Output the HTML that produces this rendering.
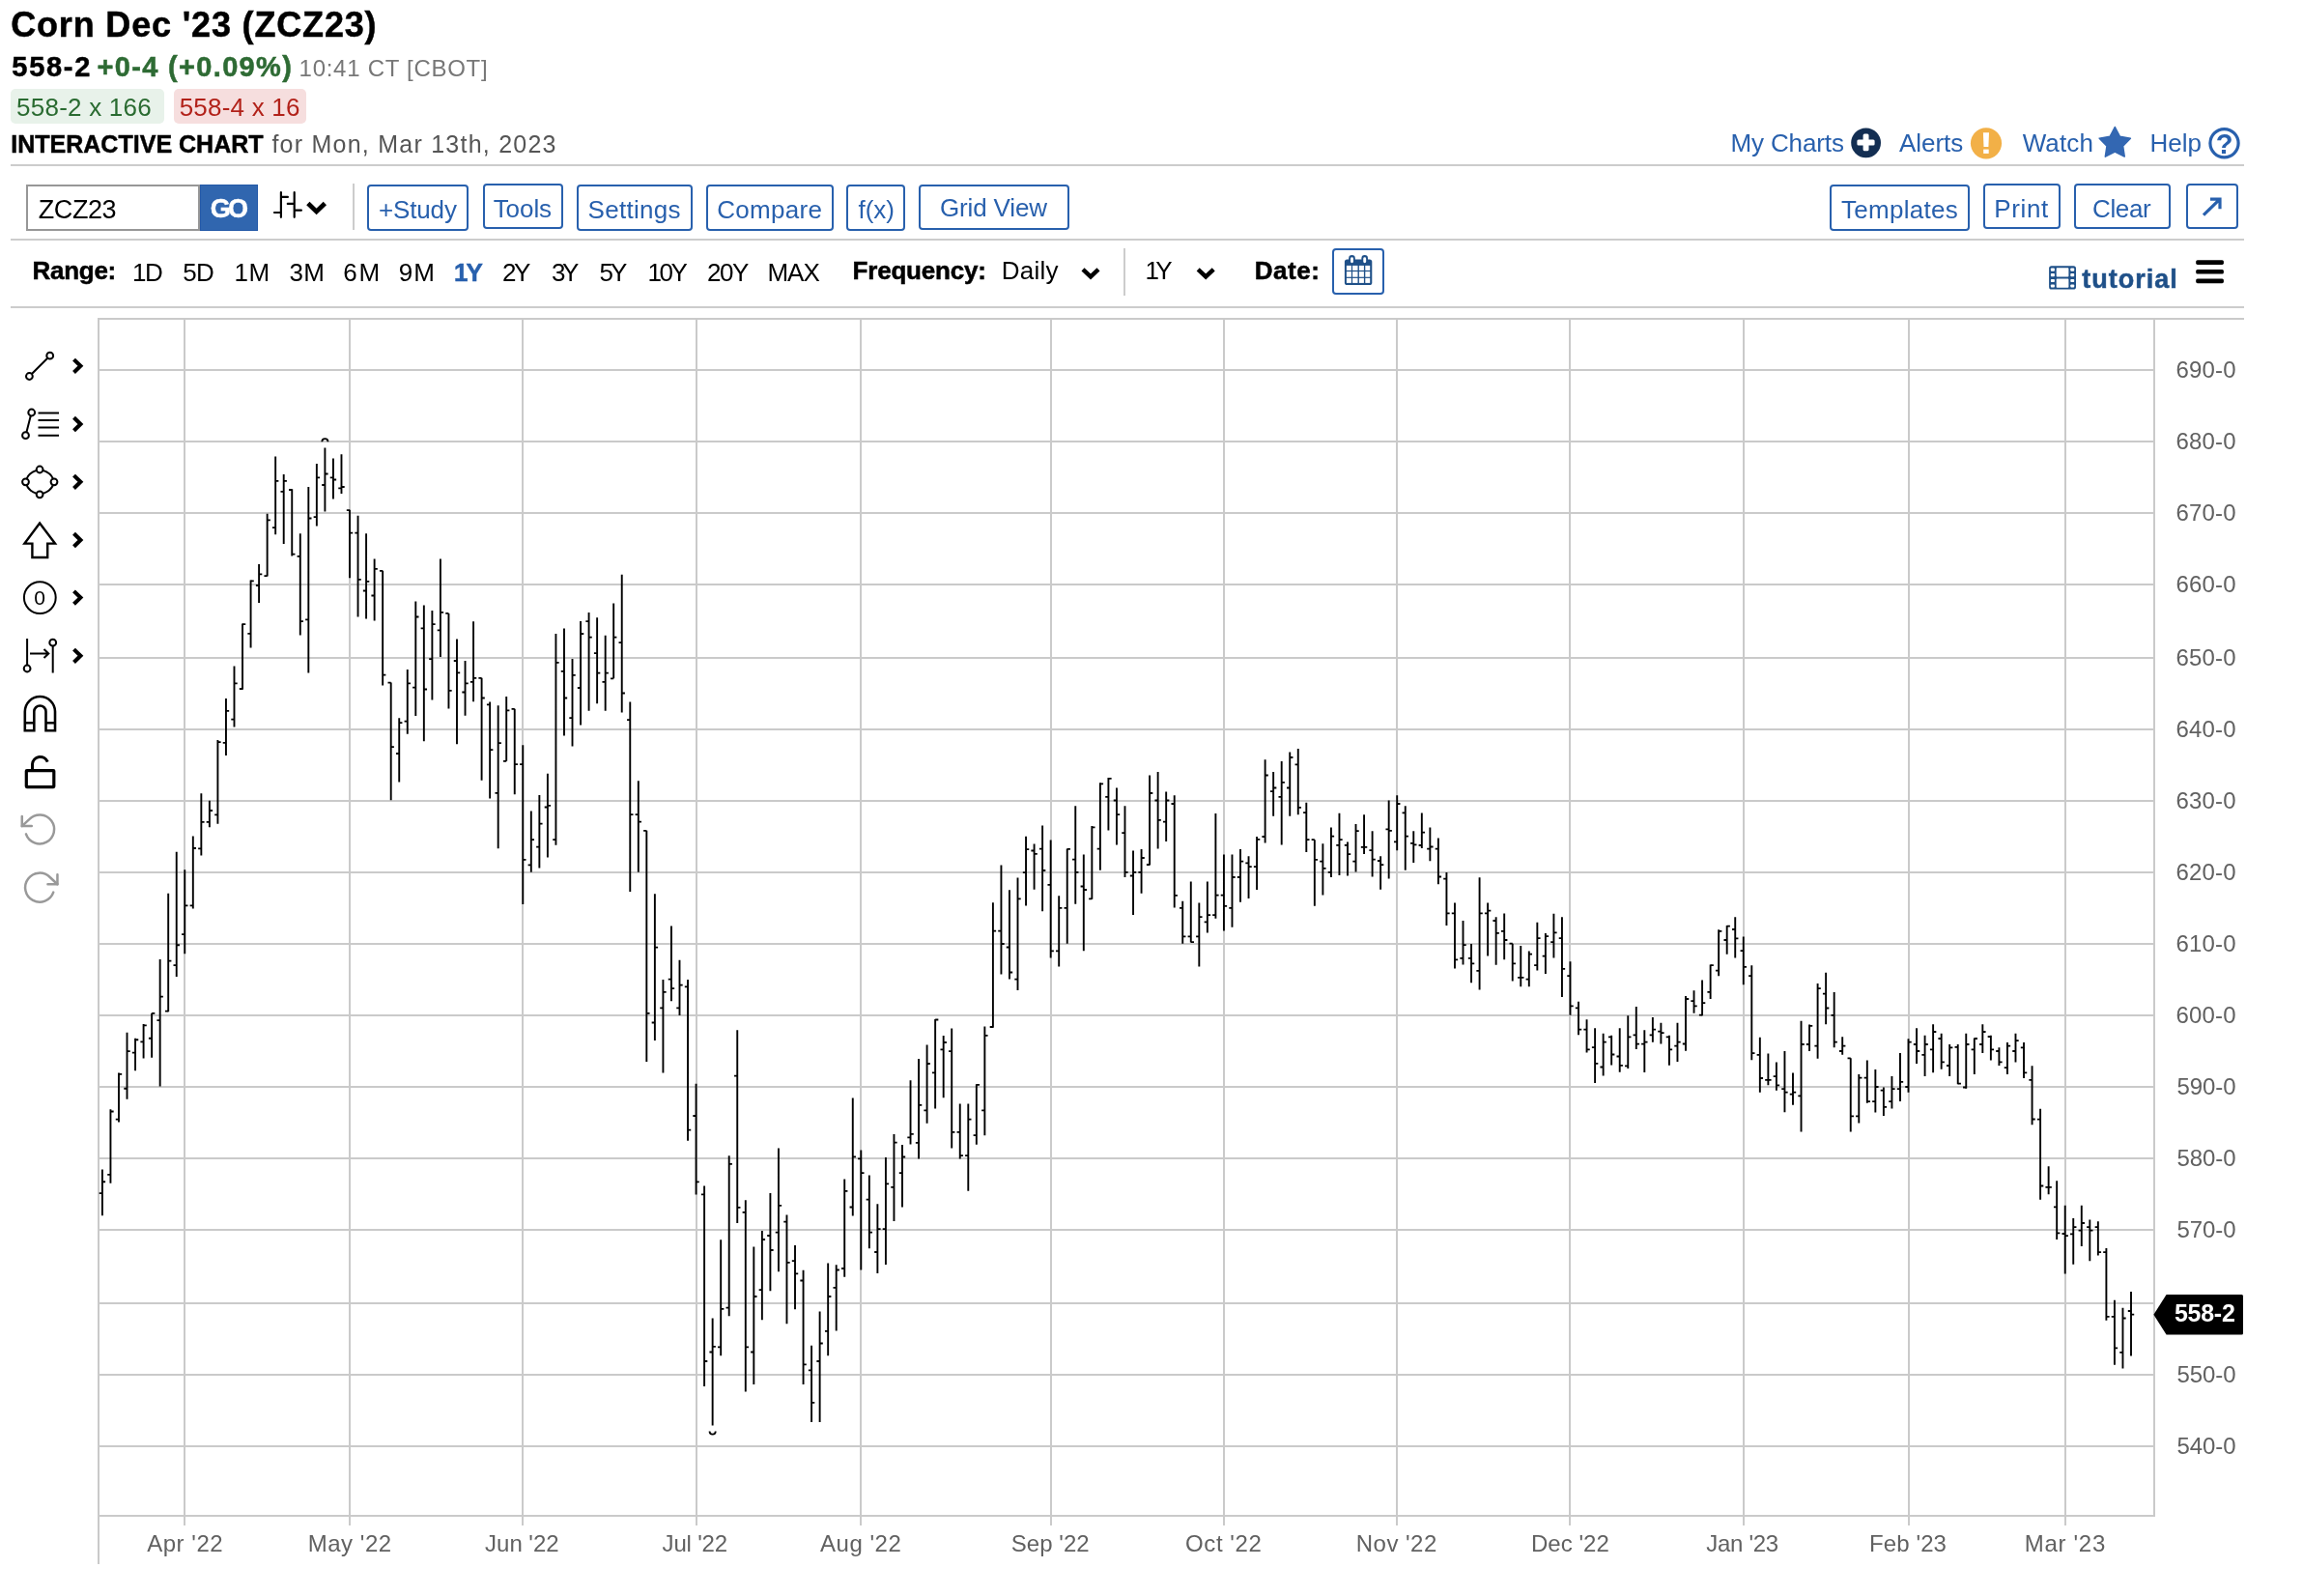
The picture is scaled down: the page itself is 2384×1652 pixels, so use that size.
<!DOCTYPE html>
<html lang="en"><head><meta charset="utf-8"><title>Corn Dec '23 (ZCZ23) Interactive Chart</title>
<style>
html,body{margin:0;padding:0;background:#fff}
body{width:2384px;height:1652px;position:relative;overflow:hidden;font-family:"Liberation Sans",sans-serif;color:#000}
#page{position:absolute;left:0;top:0;width:2384px;height:1652px;will-change:transform}
.t{position:absolute;white-space:nowrap;line-height:1;margin:0;padding:0}
.b{font-weight:700;-webkit-text-stroke:0.5px currentColor}
.hr{position:absolute;left:11px;width:2312px;height:2px;background:#ccc}
.box{position:absolute;box-sizing:border-box}
.btn{border:2px solid #2860ad;border-radius:4px;background:#fff}
.badge{border-radius:5px}
.bid{background:#e8f2ea}
.ask{background:#f6dede}
.sym{border:2px solid #979797;background:#fff}
.go{background:#3066af;border:1px solid #2359a8}
.vdiv{position:absolute;width:2px;background:#ccc}
svg{position:absolute;left:0;top:0;overflow:visible}

</style></head><body><div id="page">
<div id="header">
<div class="box badge bid" style="left:11px;top:92px;width:159px;height:36px"><span class="t" style="left:6.1px;top:6px;font-size:26px;color:#2a6b31;letter-spacing:0.22px">558-2 x 166</span></div>
<div class="box badge ask" style="left:180px;top:92px;width:137px;height:36px"><span class="t" style="left:5.7px;top:6px;font-size:26px;color:#b2221a;letter-spacing:0.21px">558-4 x 16</span></div>
<span class="t b" style="left:11.2px;top:7.5px;font-size:36px;color:#000;letter-spacing:0.83px">Corn Dec '23 (ZCZ23)</span>
<span class="t b" style="left:12.3px;top:54.5px;font-size:29px;color:#000;letter-spacing:1.71px">558-2</span>
<span class="t b" style="left:100.4px;top:54.5px;font-size:29px;color:#2e6b34;letter-spacing:1.34px">+0-4 (+0.09%)</span>
<span class="t" style="left:309.6px;top:58.5px;font-size:24px;color:#777;letter-spacing:0.72px">10:41 CT [CBOT]</span>
<span class="t b" style="left:11.2px;top:136.5px;font-size:25px;color:#000;letter-spacing:0.02px">INTERACTIVE CHART</span>
<span class="t" style="left:281.4px;top:136.5px;font-size:25px;color:#555;letter-spacing:1.24px">for Mon, Mar 13th, 2023</span>
<span class="t" style="left:1791.4px;top:135px;font-size:26px;color:#2860ad;letter-spacing:-0.12px">My Charts</span>
<span class="t" style="left:1966px;top:135px;font-size:26px;color:#2860ad;letter-spacing:-0.05px">Alerts</span>
<span class="t" style="left:2093.7px;top:135px;font-size:26px;color:#2860ad;letter-spacing:0.11px">Watch</span>
<span class="t" style="left:2225.4px;top:135px;font-size:26px;color:#2860ad;letter-spacing:0.03px">Help</span>
</div>
<div class="hr" style="top:170px"></div>
<div id="toolbar">
<div class="box sym" style="left:27px;top:191px;width:180px;height:48px"><span class="t" style="left:10.8px;top:10.5px;font-size:27px;color:#000;letter-spacing:-0.45px">ZCZ23</span></div>
<div class="box go" style="left:206.8px;top:191px;width:60.2px;height:48px"><span class="t b" style="left:9.9px;top:10.5px;font-size:27px;color:#fff;letter-spacing:-2.6px">GO</span></div>
<div class="box btn" style="left:380.4px;top:191.4px;width:105px;height:47.2px"><span class="t" style="left:9.5px;top:10.6px;font-size:26px;color:#2860ad;letter-spacing:-0.13px">+Study</span></div>
<div class="box btn" style="left:499.5px;top:190.4px;width:83.8px;height:47px"><span class="t" style="left:9.2px;top:10.6px;font-size:26px;color:#2860ad;letter-spacing:-0.07px">Tools</span></div>
<div class="box btn" style="left:597px;top:191.4px;width:119.6px;height:47.2px"><span class="t" style="left:9.5px;top:10.6px;font-size:26px;color:#2860ad;letter-spacing:0.29px">Settings</span></div>
<div class="box btn" style="left:731.3px;top:191.4px;width:131.3px;height:47.2px"><span class="t" style="left:8.9px;top:10.6px;font-size:26px;color:#2860ad;letter-spacing:0.3px">Compare</span></div>
<div class="box btn" style="left:876px;top:191.4px;width:60.9px;height:47.2px"><span class="t" style="left:10.5px;top:10.6px;font-size:26px;color:#2860ad;letter-spacing:-0.03px">f(x)</span></div>
<div class="box btn" style="left:951.2px;top:191px;width:155.6px;height:47px"><span class="t" style="left:19.7px;top:9px;font-size:26px;color:#2860ad;letter-spacing:-0.13px">Grid View</span></div>
<div class="box btn" style="left:1894px;top:191.4px;width:144.8px;height:47.2px"><span class="t" style="left:10px;top:10.6px;font-size:26px;color:#2860ad;letter-spacing:0.29px">Templates</span></div>
<div class="box btn" style="left:2053.2px;top:190.4px;width:79.5px;height:47px"><span class="t" style="left:9px;top:10.6px;font-size:26px;color:#2860ad;letter-spacing:0.67px">Print</span></div>
<div class="box btn" style="left:2147.3px;top:190.4px;width:99.3px;height:47px"><span class="t" style="left:16.7px;top:10.6px;font-size:26px;color:#2860ad;letter-spacing:-0.37px">Clear</span></div>
<div class="box btn" style="left:2263.1px;top:190.4px;width:53.7px;height:47px"></div>
<div class="vdiv" style="left:365px;top:190px;height:48px"></div>
</div>
<div class="hr" style="top:247px"></div>
<div id="rangebar">
<div class="box btn" style="left:1379px;top:257px;width:54px;height:48px"></div>
<div class="vdiv" style="left:1163px;top:257px;height:49px"></div>
<span class="t b" style="left:33.4px;top:267px;font-size:26px;color:#000;letter-spacing:-0.25px">Range:</span>
<span class="t" style="left:137.1px;top:269px;font-size:26px;color:#000;letter-spacing:-1.46px">1D</span>
<span class="t" style="left:189.2px;top:269px;font-size:26px;color:#000;letter-spacing:-0.66px">5D</span>
<span class="t" style="left:242.6px;top:269px;font-size:26px;color:#000;letter-spacing:0.44px">1M</span>
<span class="t" style="left:299.6px;top:269px;font-size:26px;color:#000;letter-spacing:0.24px">3M</span>
<span class="t" style="left:355.2px;top:269px;font-size:26px;color:#000;letter-spacing:1.74px">6M</span>
<span class="t" style="left:412.8px;top:269px;font-size:26px;color:#000;letter-spacing:0.94px">9M</span>
<span class="t b" style="left:470.1px;top:269px;font-size:26px;color:#2860ad;letter-spacing:-2.06px">1Y</span>
<span class="t" style="left:520.1px;top:269px;font-size:26px;color:#000;letter-spacing:-2.56px">2Y</span>
<span class="t" style="left:570.9px;top:269px;font-size:26px;color:#000;letter-spacing:-3.26px">3Y</span>
<span class="t" style="left:620.4px;top:269px;font-size:26px;color:#000;letter-spacing:-2.76px">5Y</span>
<span class="t" style="left:670.4px;top:269px;font-size:26px;color:#000;letter-spacing:-2.36px">10Y</span>
<span class="t" style="left:732.1px;top:269px;font-size:26px;color:#000;letter-spacing:-1.56px">20Y</span>
<span class="t" style="left:794.4px;top:269px;font-size:26px;color:#000;letter-spacing:-1px">MAX</span>
<span class="t b" style="left:882.6px;top:267px;font-size:26px;color:#000;letter-spacing:-0.21px">Frequency:</span>
<span class="t" style="left:1036.7px;top:267px;font-size:26px;color:#000;letter-spacing:0.23px">Daily</span>
<span class="t" style="left:1185.6px;top:267px;font-size:26px;color:#000;letter-spacing:-3.86px">1Y</span>
<span class="t b" style="left:1298.7px;top:267px;font-size:26px;color:#000;letter-spacing:0.54px">Date:</span>
<span class="t b" style="left:2155.3px;top:275.5px;font-size:27px;color:#1f5088;letter-spacing:0.99px">tutorial</span>
</div>
<div class="hr" style="top:317px"></div>
<svg width="2384" height="1652" viewBox="0 0 2384 1652">
<circle cx="1931.6" cy="147.8" r="15.4" fill="#132e52"/>
<rect x="1922.4" y="144.4" width="18.2" height="6.2" rx="1.5" fill="#fff"/><rect x="1928.6" y="138.5" width="5.9" height="17.8" rx="1.5" fill="#fff"/>
<circle cx="2056" cy="148.3" r="16.1" fill="#f2b047"/>
<path d="M2052.9 137.3H2059L2058.4 152.1H2053.5Z" fill="#fff"/><rect x="2053.2" y="154.6" width="5.5" height="4.3" fill="#fff"/>
<polygon points="2189.3,131.5 2194.41,141.36 2205.37,143.18 2197.57,151.09 2199.23,162.07 2189.3,157.1 2179.37,162.07 2181.03,151.09 2173.23,143.18 2184.19,141.36" fill="#3367b2" stroke="#3367b2" stroke-width="1.6" stroke-linejoin="round"/>
<circle cx="2302.5" cy="148.3" r="14.6" fill="none" stroke="#2860ad" stroke-width="3.2"/>
<text x="2302.5" y="158.9" text-anchor="middle" font-family="Liberation Sans, sans-serif" font-size="29" font-weight="700" fill="#2860ad">?</text>
<path d="M290.9 199.2V224.8M284 220H290.9M290.9 203.9H297.9M304.7 199.2V224.8M297.8 210.9H304.7M304.7 217.7H311.9" fill="none" stroke="#000" stroke-width="2.2" stroke-linecap="round"/>
<path d="M318.85 210.6 L327.6 218.9 L336.35 210.6" fill="none" stroke="#000" stroke-width="4.8" stroke-linejoin="miter"/>
<path d="M1121 278.8 L1129 286.4 L1137 278.8" fill="none" stroke="#000" stroke-width="4.4" stroke-linejoin="miter"/>
<path d="M1240.2 278.8 L1248.2 286.4 L1256.2 278.8" fill="none" stroke="#000" stroke-width="4.4" stroke-linejoin="miter"/>
<path d="M2281 222.6L2297.4 206.6M2288 206.2H2298V216.2" fill="none" stroke="#2860ad" stroke-width="3.2"/>
<g fill="#1f5088"><rect x="1391.9" y="268.4" width="28.4" height="26.6" rx="2.6"/><rect x="1396.2" y="264" width="6.6" height="9.2" rx="3.3"/><rect x="1409.4" y="264" width="6.6" height="9.2" rx="3.3"/></g>
<g fill="#fff"><rect x="1398.05" y="266.3" width="2.9" height="6" rx="1.45"/><rect x="1411.25" y="266.3" width="2.9" height="6" rx="1.45"/>
<rect x="1393.9" y="274.9" width="5" height="5"/>
<rect x="1400.1" y="274.9" width="5.4" height="5"/>
<rect x="1406.9" y="274.9" width="5" height="5"/>
<rect x="1413.3" y="274.9" width="4.9" height="5"/>
<rect x="1393.9" y="281.1" width="5" height="5.6"/>
<rect x="1400.1" y="281.1" width="5.4" height="5.6"/>
<rect x="1406.9" y="281.1" width="5" height="5.6"/>
<rect x="1413.3" y="281.1" width="4.9" height="5.6"/>
<rect x="1393.9" y="287.9" width="5" height="5"/>
<rect x="1400.1" y="287.9" width="5.4" height="5"/>
<rect x="1406.9" y="287.9" width="5" height="5"/>
<rect x="1413.3" y="287.9" width="4.9" height="5"/>
</g>
<rect x="2121.1" y="275.2" width="27.9" height="24.4" rx="2.6" fill="#1f5088"/>
<g fill="#fff">
<rect x="2122.9" y="277.5" width="4" height="3.2" rx="0.8"/><rect x="2143.3" y="277.5" width="3.9" height="3.2" rx="0.8"/>
<rect x="2122.9" y="283" width="4" height="3.2" rx="0.8"/><rect x="2143.3" y="283" width="3.9" height="3.2" rx="0.8"/>
<rect x="2122.9" y="288.9" width="4" height="3.2" rx="0.8"/><rect x="2143.3" y="288.9" width="3.9" height="3.2" rx="0.8"/>
<rect x="2122.9" y="294.4" width="4" height="3.2" rx="0.8"/><rect x="2143.3" y="294.4" width="3.9" height="3.2" rx="0.8"/>
<rect x="2128.7" y="277.3" width="12.7" height="9.3" rx="0.8"/><rect x="2128.7" y="288.6" width="12.7" height="9.1" rx="0.8"/>
</g>
<rect x="2273.2" y="269.25" width="28.7" height="4.7" rx="1.6" fill="#000"/>
<rect x="2273.2" y="278.9" width="28.7" height="4.7" rx="1.6" fill="#000"/>
<rect x="2273.2" y="288.45" width="28.7" height="4.7" rx="1.6" fill="#000"/>
<g fill="none" stroke="#000" stroke-width="2"><circle cx="51.7" cy="368.2" r="3.4"/><circle cx="30.4" cy="389.5" r="3.4"/><path d="M32.9 387L49.2 370.7"/></g>
<g fill="none" stroke="#000" stroke-width="2"><circle cx="32.7" cy="427" r="3.4"/><circle cx="26.5" cy="450.7" r="3.4"/><path d="M31.8 430.3L27.4 447.4M39.5 427.4H61M39.5 435.1H61M39.5 442.6H61M39.5 450.7H61"/></g>
<g fill="none" stroke="#000" stroke-width="2"><circle cx="41.1" cy="486" r="3.4"/><circle cx="41.1" cy="511.8" r="3.4"/><circle cx="26.5" cy="498.8" r="3.4"/><circle cx="56" cy="498.8" r="3.4"/><path d="M37.8 486.9Q30 489.5 27.6 495.5M44.4 486.9Q52.5 489.5 54.9 495.5M27.6 502.1Q30 508 37.8 510.9M54.9 502.1Q52.5 508 44.4 510.9"/></g>
<path d="M41.1 541.5L57 562.6H49.2V577H33.4V562.6H25.4Z" fill="none" stroke="#000" stroke-width="2.4" stroke-linejoin="miter"/>
<circle cx="41.3" cy="618.6" r="16.4" fill="none" stroke="#000" stroke-width="2"/>
<text x="41.1" y="626.2" text-anchor="middle" font-family="Liberation Sans, sans-serif" font-size="21" fill="#000">0</text>
<g fill="none" stroke="#000" stroke-width="2"><path d="M28.1 661V688.6M54.7 668.6V696.4M31 676.5H50M45.5 672L50.3 676.5L45.5 681"/><circle cx="28.1" cy="692" r="3.4"/><circle cx="54.7" cy="665.2" r="3.4"/></g>
<path d="M25.8 756.3V736.6A15.6 15.6 0 0 1 57 736.6V756.3H47.5V736.6A6.1 6.1 0 0 0 35.3 736.6V756.3ZM25.8 748.3H35.3M47.5 748.3H57" fill="none" stroke="#000" stroke-width="2.6"/>
<rect x="27.3" y="797.6" width="28.5" height="17" rx="0.5" fill="none" stroke="#000" stroke-width="3.2"/>
<path d="M33.5 797V791A8.2 8.2 0 0 1 49.3 788.6" fill="none" stroke="#000" stroke-width="3"/>
<g transform="translate(21.1 838.4) scale(1.667)" fill="none" stroke="#999" stroke-width="1.5" stroke-linecap="round" stroke-linejoin="round"><path d="M1 4V10H7"/><path d="M3.51 15a9 9 0 1 0 2.13-9.36L1 10"/></g>
<g transform="translate(21.1 898.6) scale(1.667)" fill="none" stroke="#999" stroke-width="1.5" stroke-linecap="round" stroke-linejoin="round"><path d="M23 4V10H17"/><path d="M20.49 15a9 9 0 1 1-2.12-9.36L23 10"/></g>
<path d="M76.5 372.1 L83.4 378.8 L76.5 385.5" fill="none" stroke="#000" stroke-width="4.1" stroke-linejoin="miter"/>
<path d="M76.5 432.3 L83.4 439 L76.5 445.7" fill="none" stroke="#000" stroke-width="4.1" stroke-linejoin="miter"/>
<path d="M76.5 492.1 L83.4 498.8 L76.5 505.5" fill="none" stroke="#000" stroke-width="4.1" stroke-linejoin="miter"/>
<path d="M76.5 552.3 L83.4 559 L76.5 565.7" fill="none" stroke="#000" stroke-width="4.1" stroke-linejoin="miter"/>
<path d="M76.5 611.9 L83.4 618.6 L76.5 625.3" fill="none" stroke="#000" stroke-width="4.1" stroke-linejoin="miter"/>
<path d="M76.5 672.1 L83.4 678.8 L76.5 685.5" fill="none" stroke="#000" stroke-width="4.1" stroke-linejoin="miter"/>
</svg>
<svg width="2384" height="1652" viewBox="0 0 2384 1652" font-family="Liberation Sans, sans-serif">
<g fill="#cacaca" shape-rendering="crispEdges">
<rect x="101" y="329" width="2222" height="2"/>
<rect x="101" y="1568" width="2130" height="2"/>
<rect x="101" y="329" width="2" height="1290"/>
<rect x="2229" y="329" width="2" height="1241"/>
<rect x="103" y="382" width="2126" height="2"/>
<rect x="103" y="456" width="2126" height="2"/>
<rect x="103" y="530" width="2126" height="2"/>
<rect x="103" y="604" width="2126" height="2"/>
<rect x="103" y="680" width="2126" height="2"/>
<rect x="103" y="754" width="2126" height="2"/>
<rect x="103" y="828" width="2126" height="2"/>
<rect x="103" y="902" width="2126" height="2"/>
<rect x="103" y="976" width="2126" height="2"/>
<rect x="103" y="1050" width="2126" height="2"/>
<rect x="103" y="1124" width="2126" height="2"/>
<rect x="103" y="1198" width="2126" height="2"/>
<rect x="103" y="1272" width="2126" height="2"/>
<rect x="103" y="1348" width="2126" height="2"/>
<rect x="103" y="1422" width="2126" height="2"/>
<rect x="103" y="1496" width="2126" height="2"/>
<rect x="190" y="331" width="2" height="1248"/>
<rect x="361" y="331" width="2" height="1248"/>
<rect x="540" y="331" width="2" height="1248"/>
<rect x="720" y="331" width="2" height="1248"/>
<rect x="890" y="331" width="2" height="1248"/>
<rect x="1087" y="331" width="2" height="1248"/>
<rect x="1266" y="331" width="2" height="1248"/>
<rect x="1445" y="331" width="2" height="1248"/>
<rect x="1624" y="331" width="2" height="1248"/>
<rect x="1804" y="331" width="2" height="1248"/>
<rect x="1975" y="331" width="2" height="1248"/>
<rect x="2137" y="331" width="2" height="1248"/>
</g>
<g font-size="24" fill="#616161">
<text x="2252.5" y="391.4" letter-spacing="0.19">690-0</text>
<text x="2252.5" y="465.4" letter-spacing="0.19">680-0</text>
<text x="2252.5" y="539.4" letter-spacing="0.19">670-0</text>
<text x="2252.5" y="613.4" letter-spacing="0.19">660-0</text>
<text x="2252.5" y="689.4" letter-spacing="0.19">650-0</text>
<text x="2252.5" y="763.4" letter-spacing="0.19">640-0</text>
<text x="2252.5" y="837.4" letter-spacing="0.19">630-0</text>
<text x="2252.5" y="911.4" letter-spacing="0.19">620-0</text>
<text x="2252.5" y="985.4" letter-spacing="0.19">610-0</text>
<text x="2252.5" y="1059.4" letter-spacing="0.19">600-0</text>
<text x="2253.5" y="1133.4" letter-spacing="-0.06">590-0</text>
<text x="2253.5" y="1207.4" letter-spacing="-0.06">580-0</text>
<text x="2253.5" y="1281.4" letter-spacing="-0.06">570-0</text>
<text x="2253.5" y="1357.4" letter-spacing="-0.06">560-0</text>
<text x="2253.5" y="1431.4" letter-spacing="-0.06">550-0</text>
<text x="2253.5" y="1505.4" letter-spacing="-0.06">540-0</text>
<text x="152.2" y="1605.9" letter-spacing="0.53">Apr '22</text>
<text x="318.7" y="1605.9" letter-spacing="0.54">May '22</text>
<text x="502.1" y="1605.9" letter-spacing="-0.03">Jun '22</text>
<text x="685.6" y="1605.9" letter-spacing="-0.18">Jul '22</text>
<text x="849.1" y="1605.9" letter-spacing="0.5">Aug '22</text>
<text x="1046.8" y="1605.9" letter-spacing="0.03">Sep '22</text>
<text x="1227.1" y="1605.9" letter-spacing="0.56">Oct '22</text>
<text x="1403.8" y="1605.9" letter-spacing="0.47">Nov '22</text>
<text x="1584.9" y="1605.9" letter-spacing="0.04">Dec '22</text>
<text x="1766.2" y="1605.9" letter-spacing="-0.27">Jan '23</text>
<text x="1935.1" y="1605.9" letter-spacing="0.09">Feb '23</text>
<text x="2095.7" y="1605.9" letter-spacing="0.71">Mar '23</text>
</g>
<path d="M105.9 1210.62V1258.13M114.44 1148.26V1224.72M122.97 1110.39V1161.62M131.51 1068.82V1137.86M140.05 1074.76V1108.17M148.59 1059.91V1095.55M157.12 1048.78V1094.8M165.66 993.1V1124.5M174.2 924.79V1047.29M182.73 881.74V1010.91M191.27 900.3V987.16M199.81 865.4V940.38M208.34 821.3V885.6M216.88 828.8V856.3M225.42 765.9V852.7M233.96 722.9V781.9M242.49 689.5V752.4M251.03 645.4V713.8M259.57 600.5V670.5M268.1 583.9V623.9M276.64 531.8V596.6M285.18 472.5V553.3M293.71 491V563M302.25 506.2V575.6M310.79 552.2V657.5M319.33 504V696.4M327.86 480V544.5M336.4 463.4V529.6M344.94 474.5V516.4M353.47 470.3V510.9M362.01 527.7V598.3M370.55 533.7V638.5M379.08 552.2V640.4M387.62 578.4V642.6M396.16 590.8V709.4M404.7 706.6V828.2M413.23 743.3V809.5M421.77 693.1V759.8M430.31 622.5V741.1M438.84 626.4V767.3M447.38 631.9V724.5M455.92 578.4V679.9M464.45 634.9V733.6M472.99 661.6V770.3M481.53 684V740.7M490.07 643.3V726.3M498.6 701.8V807.7M507.14 726.6V826.4M515.68 730.2V878.2M524.21 721.1V787.8M532.75 733.8V822.3M541.29 771.3V935.9M549.82 839.6V902.8M558.36 823.1V898.6M566.9 800.8V887.6M575.44 656V874.7M583.97 650.5V761.6M592.51 681.9V772.6M601.05 643.1V750.6M609.58 634V735.7M618.12 639.2V728.3M626.66 657.7V735.7M635.19 624.6V702.3M643.73 594.8V737.4M652.27 726.6V922.9M660.81 808.2V902.8M669.34 859.8V1099.1M677.88 925.2V1077M686.42 1014.1V1110.4M694.95 958.6V1036.2M703.49 993.7V1051.1M712.03 1014.1V1180.7M720.56 1121.7V1236.4M729.1 1227.4V1434.9M737.64 1364.5V1475.5M746.18 1283.3V1403.3M754.71 1196.3V1362.3M763.25 1066.3V1265.9M771.79 1242.3V1440.5M780.32 1290.6V1433.1M788.86 1274.1V1366.3M797.4 1235V1336.3M805.93 1188.5V1316.3M814.47 1257.4V1370.2M823.01 1289V1355.3M831.55 1314.8V1433.1M840.08 1392.7V1472.1M848.62 1357.5V1472.1M857.16 1307.4V1403.3M865.69 1309.3V1377.4M874.23 1220.4V1321.7M882.77 1136.6V1258.5M891.3 1190.6V1314.4M899.84 1216.4V1292.2M908.38 1246.3V1318M916.92 1197.9V1309M925.45 1174.1V1264M933.99 1185.1V1249.5M942.53 1118.2V1184.6M951.06 1096.1V1199.5M959.6 1081.4V1162.8M968.14 1055V1147.6M976.67 1072.1V1136.3M985.21 1064.4V1188.4M993.75 1142.4V1199.5M1002.29 1142.4V1232.8M1010.82 1122.3V1184.8M1019.36 1062.4V1175.2M1027.9 934.2V1063.8M1036.43 895.6V1008.4M1044.97 921.3V1013.6M1053.51 908.6V1024.9M1062.04 865.8V937.5M1070.58 873.4V920.7M1079.12 854.6V943.2M1087.66 869.4V991.6M1096.19 927.2V1000.6M1104.73 878.6V976.7M1113.27 834.3V935.8M1121.8 884.4V984.3M1130.34 855V930.7M1138.88 810.3V900.7M1147.41 804.9V859.6M1155.95 815.5V874.6M1164.49 834.3V907.9M1173.03 880.6V947M1181.56 879V924.7M1190.1 802.5V895.5M1198.64 798.9V878.5M1207.17 819.6V871.1M1215.71 823.3V939.5M1224.25 932.7V976.7M1232.78 912.4V975.6M1241.32 934.6V1000.4M1249.86 912.4V965.5M1258.4 842V950.7M1266.93 884.4V963.4M1275.47 884.4V959.8M1284.01 879V933.7M1292.54 886.2V930M1301.08 866V921M1309.62 786.2V872.5M1318.15 798.9V844.8M1326.69 788V874.6M1335.23 778.5V844.8M1343.77 774.9V843.2M1352.3 830.8V881.9M1360.84 869.2V937.7M1369.38 873.3V926.6M1377.91 856.4V908M1386.45 841.7V906M1394.99 871.4V906.4M1403.52 852.9V902.6M1412.06 843.3V883.9M1420.6 860.2V907.6M1429.14 886.3V920.8M1437.67 828.5V909.6M1446.21 823.2V880.2M1454.75 834.3V900.7M1463.28 860.2V893M1471.82 841.6V878.1M1480.36 856.4V891.2M1488.89 867.6V915.3M1497.43 902.9V958.1M1505.97 934.4V1002.6M1514.51 953V998.4M1523.04 977V1017.3M1531.58 908.3V1024.5M1540.12 934.4V989.4M1548.65 949.3V998.7M1557.19 945.5V993.3M1565.73 976.7V1015.4M1574.26 979V1021.2M1582.8 984.6V1021.2M1591.34 954.8V1004.4M1599.88 966V1008M1608.41 945.7V991.4M1616.95 949.3V1032.1M1625.49 995.3V1050.7M1634.02 1036.7V1071.2M1642.56 1055.3V1089.4M1651.1 1064.2V1121M1659.63 1069.8V1113.6M1668.17 1071.8V1102.4M1676.71 1064.2V1109.7M1685.25 1051.2V1105.9M1693.78 1041.9V1085.9M1702.32 1066.3V1110.1M1710.86 1053V1078.7M1719.39 1058.8V1080.5M1727.93 1071.8V1102.8M1736.47 1058.8V1099.1M1745 1030.9V1087.8M1753.54 1025.3V1048.7M1762.08 1014.4V1051.2M1770.62 998.4V1034M1779.15 962.3V1010.2M1787.69 957.9V987.7M1796.23 949.2V991.5M1804.76 969.6V1019.3M1813.3 999.2V1097.3M1821.84 1073.7V1130.7M1830.37 1090.4V1123.2M1838.91 1099.4V1128.7M1847.45 1088V1151.2M1855.99 1110.5V1143.7M1864.52 1056.7V1171.6M1873.06 1060.6V1088M1881.6 1018V1095.7M1890.13 1006.7V1060.3M1898.67 1027.1V1084.3M1907.21 1073.3V1091.8M1915.74 1095.3V1171.6M1924.28 1112.1V1162.4M1932.82 1097.5V1141.8M1941.36 1107.1V1151.5M1949.89 1125.5V1155.1M1958.43 1114.1V1147.6M1966.97 1090.1V1140.1M1975.5 1075.3V1130.7M1984.04 1064.2V1101M1992.58 1071.7V1114.1M2001.11 1060.3V1110.3M2009.65 1069.8V1106.7M2018.19 1081V1114.1M2026.73 1081V1122.2M2035.26 1069.8V1126.8M2043.8 1074.6V1112.1M2052.34 1060.3V1090.1M2060.87 1071.7V1097.5M2069.41 1084.3V1103M2077.95 1079V1112.1M2086.48 1069.8V1099.4M2095.02 1079V1116M2103.56 1103.2V1164.2M2112.1 1147.7V1241.7M2120.63 1207.3V1236.2M2129.17 1222.2V1282.9M2137.71 1247.8V1318.4M2146.24 1261V1308.8M2154.78 1247.8V1289.9M2163.32 1262.5V1305.3M2171.85 1264.3V1299.4M2180.39 1292.1V1366.7M2188.93 1345.8V1412.7M2197.47 1353.7V1416.6M2206 1337.1V1403.5" stroke="#000" stroke-width="1.9" fill="none"/>
<path d="M102.7 1235.12H105.9M105.9 1223.24H109.1M111.24 1215.82H114.44M114.44 1150.48H117.64M119.77 1158.65H122.97M122.97 1111.88H126.17M128.31 1126.73H131.51M131.51 1088.12H134.71M136.85 1089.61H140.05M140.05 1076.24H143.25M145.39 1078.47H148.59M148.59 1061.4H151.78M153.92 1074.76H157.12M157.12 1048.78H160.32M162.46 1056.2H165.66M165.66 1031.7H168.86M171 1046.55H174.2M174.2 994.58H177.4M179.53 999.03H182.73M182.73 978.25H185.93M188.07 967.11H191.27M191.27 937.42H194.47M196.61 937.42H199.81M199.81 878.02H203.01M205.14 878.4H208.34M208.34 850.8H211.54M213.68 850.8H216.88M216.88 839H220.08M222.22 843.4H225.42M225.42 768.1H228.62M230.76 768.9H233.96M233.96 735.8H237.16M239.29 744.7H242.49M242.49 707.4H245.69M247.83 713H251.03M251.03 646.2H254.23M256.37 655.9H259.57M259.57 601.3H262.77M264.9 606H268.1M268.1 594.4H271.3M273.44 596.1H276.64M276.64 538.4H279.84M281.98 546.1H285.18M285.18 497.9H288.38M290.51 508.9H293.71M293.71 497.9H296.91M299.05 507H302.25M302.25 573.7H305.45M307.59 575.9H310.79M310.79 643.2H313.99M316.13 641.3H319.33M319.33 536.5H322.53M324.66 535.1H327.86M327.86 494.3H331.06M333.2 502H336.4M336.4 490.5H339.6M341.74 494.3H344.94M344.94 496.5H348.14M350.27 505.3H353.47M353.47 504H356.67M358.81 528.2H362.01M362.01 551.7H365.21M367.35 551.7H370.55M370.55 599.9H373.75M375.88 611.5H379.08M379.08 601.8H382.28M384.42 616.5H387.62M387.62 588.9H390.82M392.96 590.8H396.16M396.16 698.6H399.36M401.5 706.6H404.7M404.7 773.1H407.9M410.03 780H413.23M413.23 748.2H416.43M418.57 746.6H421.77M421.77 707.4H424.97M427.11 711.6H430.31M430.31 638.5H433.51M435.64 650.4H438.84M438.84 713.5H442.04M444.18 682.1H447.38M447.38 646.2H450.58M452.72 652.3H455.92M455.92 633.8H459.12M461.25 634.9H464.45M464.45 714.9H467.65M469.79 684H472.99M472.99 696.4H476.19M478.33 716.5H481.53M481.53 707.4H484.73M486.87 705.9H490.07M490.07 701.8H493.27M495.4 701.8H498.6M498.6 722.5H501.8M503.94 729.4H507.14M507.14 776.2H510.34M512.48 820.9H515.68M515.68 769.1H518.88M521.01 787.8H524.21M524.21 735.4H527.41M529.55 733.8H532.75M532.75 791.1H535.95M538.09 791.1H541.29M541.29 889.8H544.49M546.62 895.3H549.82M549.82 869.1H553.02M555.16 876.6H558.36M558.36 852.6H561.56M563.7 835.5H566.9M566.9 833.9H570.1M572.24 869.1H575.44M575.44 685.8H578.64M580.77 694.9H583.97M583.97 722.5H587.17M589.31 743.1H592.51M592.51 698.8H595.71M597.85 712H601.05M601.05 656H604.25M606.38 643.1H609.58M609.58 659.6H612.78M614.92 676.1H618.12M618.12 696.6H621.32M623.46 705.9H626.66M626.66 696.6H629.86M631.99 702.3H635.19M635.19 659.6H638.39M640.53 665.1H643.73M643.73 717.5H646.93M649.07 745.1H652.27M652.27 843.2H655.47M657.61 843.2H660.81M660.81 850.7H664.01M666.14 859.8H669.34M669.34 1048.9H672.54M674.68 1058.5H677.88M677.88 980.6H681.08M683.22 1043.4H686.42M686.42 1026.8H689.62M691.75 1013.6H694.95M694.95 1023.2H698.15M700.29 1043.4H703.49M703.49 1019.7H706.69M708.83 1021.3H712.03M712.03 1169.6H715.23M717.36 1155H720.56M720.56 1223.3H723.76M725.9 1236.4H729.1M729.1 1409H732.3M734.44 1399.5H737.64M737.64 1393.9H740.84M742.98 1394.3H746.18M746.18 1354.8H749.38M751.51 1353.7H754.71M754.71 1204.8H757.91M760.05 1113.7H763.25M763.25 1249.8H766.45M768.59 1254.9H771.79M771.79 1394.3H774.99M777.12 1399.5H780.32M780.32 1342H783.52M785.66 1335.2H788.86M788.86 1283H792.06M794.2 1279H797.4M797.4 1294H800.6M802.73 1275.6H805.93M805.93 1247.8H809.13M811.27 1264.6H814.47M814.47 1306.8H817.67M819.81 1305.2H823.01M823.01 1318.3H826.21M828.35 1325.5H831.55M831.55 1412.3H834.75M836.88 1418.4H840.08M840.08 1451.8H843.28M845.42 1409H848.62M848.62 1390.5H851.82M853.96 1377.8H857.16M857.16 1342H860.36M862.49 1332.9H865.69M865.69 1314.5H868.89M871.03 1313H874.23M874.23 1232.8H877.43M879.57 1249.5H882.77M882.77 1197.3H885.97M888.1 1199.3H891.3M891.3 1214.2H894.5M896.64 1241.7H899.84M899.84 1275.6H903.04M905.18 1296H908.38M908.38 1272.1H911.58M913.72 1272.1H916.92M916.92 1225.3H920.12M922.25 1228.8H925.45M925.45 1182.7H928.65M930.79 1214.2H933.99M933.99 1197.5H937.19M939.33 1177.3H942.53M942.53 1173.8H945.73M947.86 1182.9H951.06M951.06 1143.8H954.26M956.4 1149.3H959.6M959.6 1101H962.8M964.94 1110.4H968.14M968.14 1055.5H971.34M973.47 1086.4H976.67M976.67 1079H979.87M982.01 1088.1H985.21M985.21 1171.9H988.41M990.55 1171.9H993.75M993.75 1196.1H996.95M999.09 1196.1H1002.29M1002.29 1158.6H1005.49M1007.62 1175.2H1010.82M1010.82 1122.8H1014.02M1016.16 1149.3H1019.36M1019.36 1071.8H1022.56M1024.7 1063H1027.9M1027.9 963.7H1031.1M1033.23 963.7H1036.43M1036.43 977H1039.63M1041.77 980.5H1044.97M1044.97 1006.5H1048.17M1050.31 1013.6H1053.51M1053.51 930.4H1056.71M1058.84 903.1H1062.04M1062.04 879.1H1065.24M1067.38 880.5H1070.58M1070.58 883.8H1073.78M1075.92 878.7H1079.12M1079.12 901H1082.32M1084.46 915.8H1087.66M1087.66 984.3H1090.86M1092.99 984.3H1096.19M1096.19 939.9H1099.39M1101.53 939.9H1104.73M1104.73 878.9H1107.93M1110.07 889.7H1113.27M1113.27 902.8H1116.47M1118.6 917.5H1121.8M1121.8 921H1125M1127.14 930.4H1130.34M1130.34 856.3H1133.54M1135.68 878.7H1138.88M1138.88 811.4H1142.08M1144.21 824.9H1147.41M1147.41 805.9H1150.61M1152.75 828.5H1155.95M1155.95 843.2H1159.15M1161.29 862.1H1164.49M1164.49 902.9H1167.69M1169.83 906.5H1173.03M1173.03 902.9H1176.23M1178.36 902.9H1181.56M1181.56 888H1184.76M1186.9 895H1190.1M1190.1 821H1193.3M1195.44 828.5H1198.64M1198.64 848.8H1201.84M1203.97 850.7H1207.17M1207.17 828.5H1210.37M1212.51 832H1215.71M1215.71 926.8H1218.91M1221.05 939.8H1224.25M1224.25 969.4H1227.45M1229.58 969.4H1232.78M1232.78 975.1H1235.98M1238.12 969.4H1241.32M1241.32 949.1H1244.52M1246.66 954.4H1249.86M1249.86 947.1H1253.06M1255.2 947.1H1258.4M1258.4 926.7H1261.6M1263.73 926.7H1266.93M1266.93 937.8H1270.13M1272.27 939.8H1275.47M1275.47 908H1278.67M1280.81 908H1284.01M1284.01 891.6H1287.21M1289.34 893.3H1292.54M1292.54 897.1H1295.74M1297.88 897.1H1301.08M1301.08 868.9H1304.28M1306.42 866H1309.62M1309.62 802.5H1312.82M1314.95 819.2H1318.15M1318.15 815.5H1321.35M1323.49 824.8H1326.69M1326.69 809.9H1329.89M1332.03 815.5H1335.23M1335.23 784H1338.43M1340.57 791.4H1343.77M1343.77 835.8H1346.97M1349.1 841.2H1352.3M1352.3 869.2H1355.5M1357.64 869.2H1360.84M1360.84 889.8H1364.04M1366.18 891.6H1369.38M1369.38 898.9H1372.58M1374.71 902.8H1377.91M1377.91 865.7H1381.11M1383.25 874.9H1386.45M1386.45 869.2H1389.65M1391.79 874.9H1394.99M1394.99 884.2H1398.19M1400.32 891.7H1403.52M1403.52 860.1H1406.72M1408.86 876.8H1412.06M1412.06 876.8H1415.26M1417.4 880.2H1420.6M1420.6 889.6H1423.8M1425.94 891H1429.14M1429.14 895.1H1432.34M1434.47 858.3H1437.67M1437.67 859.9H1440.87M1443.01 871.3H1446.21M1446.21 832H1449.41M1451.55 841.3H1454.75M1454.75 865.7H1457.95M1460.08 872.8H1463.28M1463.28 874.4H1466.48M1468.62 875H1471.82M1471.82 861.6H1475.02M1477.16 878.6H1480.36M1480.36 876.5H1483.56M1485.69 878.6H1488.89M1488.89 907.5H1492.09M1494.23 909.6H1497.43M1497.43 945.3H1500.63M1502.77 945.3H1505.97M1505.97 993.3H1509.17M1511.31 991.8H1514.51M1514.51 978.2H1517.71M1519.84 991.8H1523.04M1523.04 997.4H1526.24M1528.38 1004.9H1531.58M1531.58 945.3H1534.78M1536.92 945.3H1540.12M1540.12 942.6H1543.32M1545.45 953H1548.65M1548.65 965.8H1551.85M1553.99 963.9H1557.19M1557.19 973H1560.39M1562.53 976.7H1565.73M1565.73 997.4H1568.93M1571.06 1011.9H1574.26M1574.26 1011.9H1577.46M1579.6 1013.7H1582.8M1582.8 987.7H1586M1588.14 999.1H1591.34M1591.34 971.2H1594.54M1596.68 989.6H1599.88M1599.88 969.1H1603.08M1605.21 975.1H1608.41M1608.41 965.4H1611.61M1613.75 971.2H1616.95M1616.95 1002.8H1620.15M1622.29 1010.2H1625.49M1625.49 1041.4H1628.69M1630.82 1043.3H1634.02M1634.02 1065.6H1637.22M1639.36 1065.6H1642.56M1642.56 1086.3H1645.76M1647.9 1084.2H1651.1M1651.1 1100.8H1654.3M1656.43 1104.5H1659.63M1659.63 1078.7H1662.83M1664.97 1073.3H1668.17M1668.17 1091.5H1671.37M1673.51 1093.5H1676.71M1676.71 1102.8H1679.91M1682.05 1103.3H1685.25M1685.25 1073.3H1688.45M1690.58 1071.4H1693.78M1693.78 1080.7H1696.98M1699.12 1080.7H1702.32M1702.32 1078.7H1705.52M1707.66 1071.4H1710.86M1710.86 1065.6H1714.06M1716.19 1067.7H1719.39M1719.39 1069.1H1722.59M1724.73 1073.3H1727.93M1727.93 1086.3H1731.13M1733.27 1082.6H1736.47M1736.47 1078.7H1739.67M1741.8 1080.5H1745M1745 1034H1748.2M1750.34 1036.1H1753.54M1753.54 1041.4H1756.74M1758.88 1050.7H1762.08M1762.08 1038.1H1765.28M1767.42 1026.8H1770.62M1770.62 999.1H1773.82M1775.95 1004.7H1779.15M1779.15 963.9H1782.35M1784.49 973H1787.69M1787.69 958.6H1790.89M1793.03 962H1796.23M1796.23 971.3H1799.43M1801.56 984.1H1804.76M1804.76 1000.9H1807.96M1810.1 1010.1H1813.3M1813.3 1090.1H1816.5M1818.64 1091.8H1821.84M1821.84 1116H1825.04M1827.17 1117.8H1830.37M1830.37 1117.8H1833.57M1835.71 1114.1H1838.91M1838.91 1123.4H1842.11M1844.25 1127.1H1847.45M1847.45 1130.7H1850.65M1852.79 1132.6H1855.99M1855.99 1130.7H1859.19M1861.32 1134.4H1864.52M1864.52 1081H1867.72M1869.86 1081H1873.06M1873.06 1061.9H1876.26M1878.4 1082.6H1881.6M1881.6 1023.2H1884.8M1886.93 1028.7H1890.13M1890.13 1043.5H1893.33M1895.47 1050.9H1898.67M1898.67 1078.7H1901.87M1904.01 1088H1907.21M1907.21 1082.6H1910.41M1912.54 1095.3H1915.74M1915.74 1155.3H1918.94M1921.08 1155.3H1924.28M1924.28 1115.7H1927.48M1929.62 1115.7H1932.82M1932.82 1140.1H1936.02M1938.16 1140.1H1941.36M1941.36 1125H1944.56M1946.69 1128.7H1949.89M1949.89 1145.8H1953.09M1955.23 1140.1H1958.43M1958.43 1127.1H1961.63M1963.77 1127.1H1966.97M1966.97 1119.8H1970.17M1972.3 1125H1975.5M1975.5 1078.7H1978.7M1980.84 1081H1984.04M1984.04 1088H1987.24M1989.38 1091.8H1992.58M1992.58 1081H1995.78M1997.91 1086.4H2001.11M2001.11 1068H2004.31M2006.45 1075H2009.65M2009.65 1099.4H2012.85M2014.99 1103H2018.19M2018.19 1084.3H2021.39M2023.53 1083.9H2026.73M2026.73 1121.7H2029.93M2032.06 1125.5H2035.26M2035.26 1081H2038.46M2040.6 1086.4H2043.8M2043.8 1075H2047M2049.14 1081H2052.34M2052.34 1068H2055.54M2057.67 1073H2060.87M2060.87 1086.4H2064.07M2066.21 1088H2069.41M2069.41 1099.4H2072.61M2074.75 1105.1H2077.95M2077.95 1082.6H2081.15M2083.28 1088H2086.48M2086.48 1077.1H2089.68M2091.82 1084.3H2095.02M2095.02 1110.3H2098.22M2100.36 1117.8H2103.56M2103.56 1158.5H2106.76M2108.9 1158.6H2112.1M2112.1 1227.5H2115.3M2117.43 1228.8H2120.63M2120.63 1228.8H2123.83M2125.97 1249.4H2129.17M2129.17 1276.3H2132.37M2134.51 1277H2137.71M2137.71 1279.2H2140.91M2143.04 1277.4H2146.24M2146.24 1270.2H2149.44M2151.58 1273.7H2154.78M2154.78 1266H2157.98M2160.12 1270.2H2163.32M2163.32 1273.7H2166.52M2168.65 1270.2H2171.85M2171.85 1296.1H2175.05M2177.19 1296.1H2180.39M2180.39 1362.9H2183.59M2185.73 1362.9H2188.93M2188.93 1395.4H2192.13M2194.27 1399.8H2197.47M2197.47 1364.5H2200.66M2202.8 1357H2206M2206 1360.7H2209.2" stroke="#000" stroke-width="1.8" fill="none"/>
<path d="M333.3 457.2A3.1 3.1 0 0 1 339.5 457.2" stroke="#000" stroke-width="1.8" fill="none"/>
<path d="M734.54 1481.6A3.1 3.1 0 0 0 740.74 1481.6" stroke="#000" stroke-width="1.8" fill="none"/>
<path d="M2229.4 1360.7L2242.6 1340H2320.5Q2322 1340 2322 1341.5V1380Q2322 1381.5 2320.5 1381.5H2242.6Z" fill="#000"/>
<text x="2250.9" y="1368.3" font-size="25" font-weight="700" fill="#fff" letter-spacing="-0.26">558-2</text>
</svg>
</div></body></html>
